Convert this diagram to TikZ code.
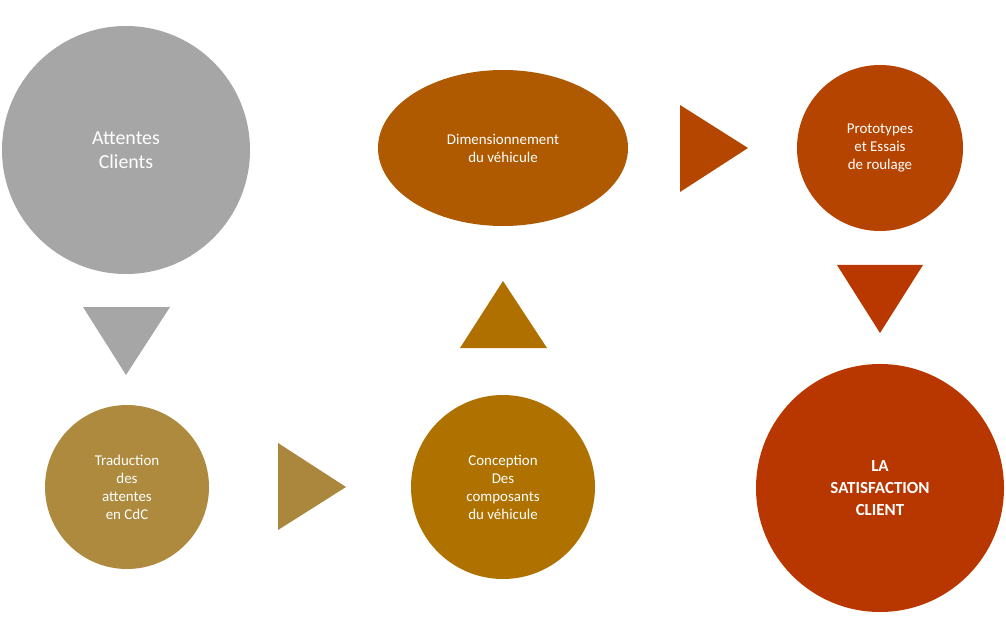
\documentclass[tikz,border=0pt]{standalone}
\usepackage{fontspec}
\setmainfont{Carlito}
\usetikzlibrary{shapes.geometric}
\definecolor{cgray}{HTML}{A6A6A6}
\definecolor{cdim}{HTML}{AF5A00}
\definecolor{cproto}{HTML}{B44400}
\definecolor{csat}{HTML}{B83700}
\definecolor{ctrad}{HTML}{AD8A3E}
\definecolor{cconc}{HTML}{AF7200}
\tikzset{
  step node/.style={circle, text=white, align=center, font=\fontsize{15}{18}\selectfont, inner sep=0pt},
}
\begin{document}
\begin{tikzpicture}[x=1bp, y=-1bp]
\useasboundingbox (0,0) rectangle (1006,636);

% stages
\node (att) [step node, fill=cgray, minimum size=248bp, font=\fontsize{20}{24}\selectfont] at (126,150) {Attentes\\Clients};
\node (dim) [ellipse, fill=cdim, text=white, align=center, minimum width=250bp, minimum height=156bp, font=\fontsize{15}{18}\selectfont] at (503,148) {Dimensionnement\\du véhicule};
\node (proto) [step node, fill=cproto, minimum size=166bp] at (880,148) {Prototypes\\et Essais\\de roulage};
\node (trad) [step node, fill=ctrad, minimum size=164bp] at (127,487) {Traduction\\des\\attentes\\en CdC};
\node (conc) [step node, fill=cconc, minimum size=184bp] at (503,487) {Conception\\Des\\composants\\du véhicule};
\node (sat) [step node, fill=csat, minimum size=248bp, font=\bfseries\fontsize{17}{22}\selectfont] at (880,488) {LA\\SATISFACTION\\CLIENT};

% arrows
\fill [cgray] (83,307) -- (170,307) -- (126,375) -- cycle;
\fill [ctrad!98!black] (278,443) -- (346,487) -- (278,530) -- cycle;
\fill [cconc!90!cdim] (460,348) -- (547,348) -- (503,281) -- cycle;
\fill [cproto!90!cdim] (680,105) -- (748,148) -- (680,192) -- cycle;
\fill [csat!95!cproto] (837,265) -- (923,265) -- (880,333) -- cycle;

\end{tikzpicture}
\end{document}
